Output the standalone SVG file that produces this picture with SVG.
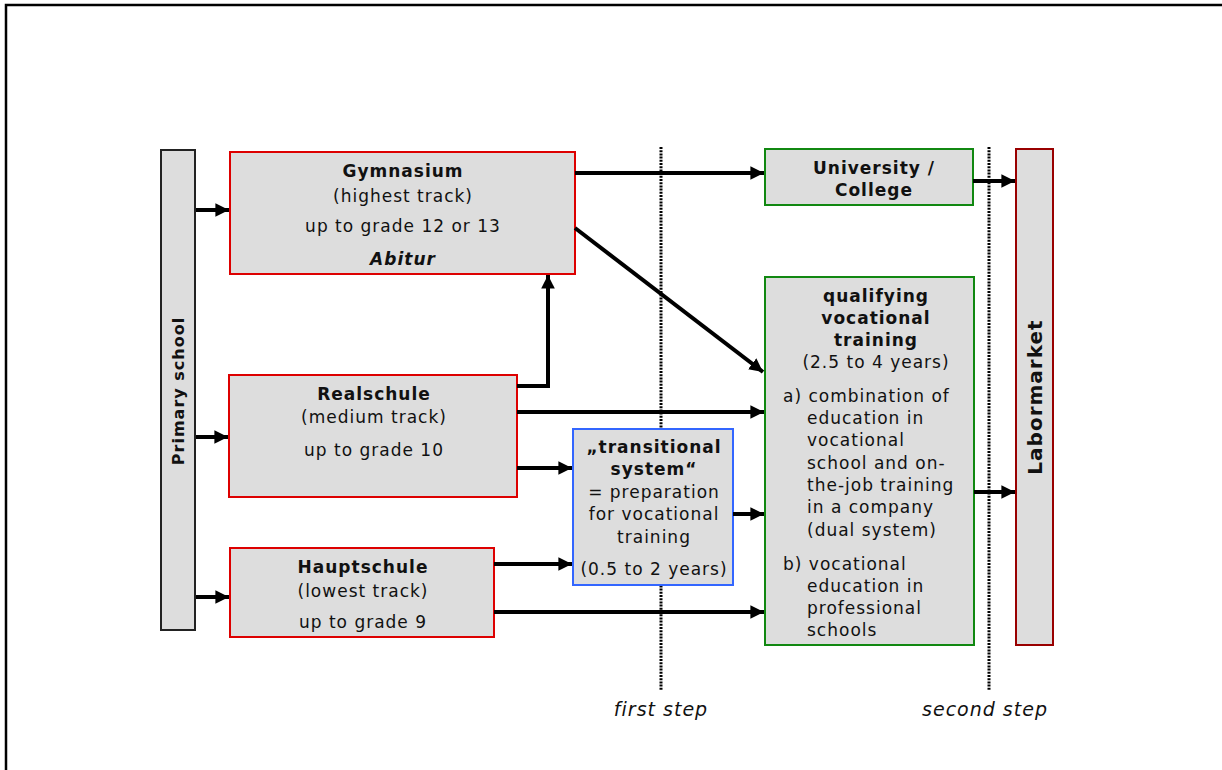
<svg xmlns="http://www.w3.org/2000/svg" width="1222" height="770" viewBox="0 0 1222 770">
<defs>
<marker id="ah" markerWidth="4" markerHeight="4" refX="3.4" refY="2" orient="auto" markerUnits="strokeWidth">
<path d="M0,0.3 L3.4,2 L0,3.7 Z" fill="#000"/>
</marker>
<style>
.box{fill:#dddddd;stroke-width:2}
.red{stroke:#dd0000}
.green{stroke:#118811}
.blue{stroke:#3366ff}
.dred{stroke:#990000}
.blk{stroke:#222}
text{font-family:"DejaVu Sans","Verdana",sans-serif;font-size:17px;letter-spacing:1px;fill:#111}
.c{text-anchor:middle}
.b{font-weight:bold}
.i{font-style:italic}
.con{stroke:#000;stroke-width:4;fill:none;marker-end:url(#ah)}
.dot{stroke:#000;stroke-width:3;stroke-dasharray:2 1.2;fill:none}
</style>
</defs>
<rect x="0" y="0" width="1222" height="770" fill="#fff"/>
<path d="M6,770 V5 H1222" fill="none" stroke="#000" stroke-width="2.5"/>

<g id="dividers">
<line class="dot" x1="661" y1="147" x2="661" y2="691"/>
<line class="dot" x1="989" y1="147" x2="989" y2="691"/>
<text class="i c" style="font-size:19px" x="661" y="716">first step</text>
<text class="i c" style="font-size:19px" x="985" y="716">second step</text>
</g>

<g id="primary">
<rect class="box blk" x="161" y="150" width="34" height="480"/>
<text class="b c" style="font-size:16px" transform="translate(184,391) rotate(-90)">Primary school</text>
</g>

<g id="gymnasium">
<rect class="box red" x="230" y="152" width="345" height="122"/>
<text class="b c" x="403" y="177">Gymnasium</text>
<text class="c" x="403" y="202">(highest track)</text>
<text class="c" x="403" y="232">up to grade 12 or 13</text>
<text class="b i c" x="403" y="265">Abitur</text>
</g>

<g id="realschule">
<rect class="box red" x="229" y="375" width="288" height="122"/>
<text class="b c" x="374" y="400">Realschule</text>
<text class="c" x="374" y="423">(medium track)</text>
<text class="c" x="374" y="456">up to grade 10</text>
</g>

<g id="hauptschule">
<rect class="box red" x="230" y="548" width="264" height="89"/>
<text class="b c" x="363" y="573">Hauptschule</text>
<text class="c" x="363" y="597">(lowest track)</text>
<text class="c" x="363" y="628">up to grade 9</text>
</g>

<g id="transitional">
<rect class="box blue" x="573" y="429" width="160" height="156"/>
<text class="b c" x="654" y="453">„transitional</text>
<text class="b c" x="654" y="475">system“</text>
<text class="c" x="654" y="498">= preparation</text>
<text class="c" x="654" y="520">for vocational</text>
<text class="c" x="654" y="543">training</text>
<text class="c" x="654" y="575">(0.5 to 2 years)</text>
</g>

<g id="university">
<rect class="box green" x="765" y="149" width="208" height="56"/>
<text class="b c" x="874" y="174">University /</text>
<text class="b c" x="874" y="196">College</text>
</g>

<g id="qualifying">
<rect class="box green" x="765" y="277" width="209" height="368"/>
<text class="b c" x="876" y="302">qualifying</text>
<text class="b c" x="876" y="324">vocational</text>
<text class="b c" x="876" y="346">training</text>
<text class="c" x="876" y="368">(2.5 to 4 years)</text>
<text x="783" y="402">a) combination of</text>
<text x="807" y="424">education in</text>
<text x="807" y="446">vocational</text>
<text x="807" y="469">school and on-</text>
<text x="807" y="491">the-job training</text>
<text x="807" y="513">in a company</text>
<text x="807" y="536">(dual system)</text>
<text x="783" y="570">b) vocational</text>
<text x="807" y="592">education in</text>
<text x="807" y="614">professional</text>
<text x="807" y="636">schools</text>
</g>

<g id="labormarket">
<rect class="box dred" x="1016" y="149" width="37" height="496"/>
<text class="b c" style="font-size:20px" transform="translate(1042,397) rotate(-90)">Labormarket</text>
</g>

<g id="connectors">
<line class="con" x1="196" y1="210" x2="229" y2="210"/>
<line class="con" x1="196" y1="437" x2="228" y2="437"/>
<line class="con" x1="196" y1="597" x2="229" y2="597"/>
<line class="con" x1="575" y1="173" x2="764" y2="173"/>
<line class="con" x1="575" y1="228" x2="763" y2="372"/>
<path class="con" d="M517,386 H548 V275"/>
<line class="con" x1="517" y1="412" x2="764" y2="412"/>
<line class="con" x1="517" y1="468" x2="572" y2="468"/>
<line class="con" x1="494" y1="564" x2="572" y2="564"/>
<line class="con" x1="494" y1="612" x2="764" y2="612"/>
<line class="con" x1="733" y1="514" x2="764" y2="514"/>
<line class="con" x1="973" y1="181" x2="1015" y2="181"/>
<line class="con" x1="974" y1="492" x2="1015" y2="492"/>
</g>
</svg>
